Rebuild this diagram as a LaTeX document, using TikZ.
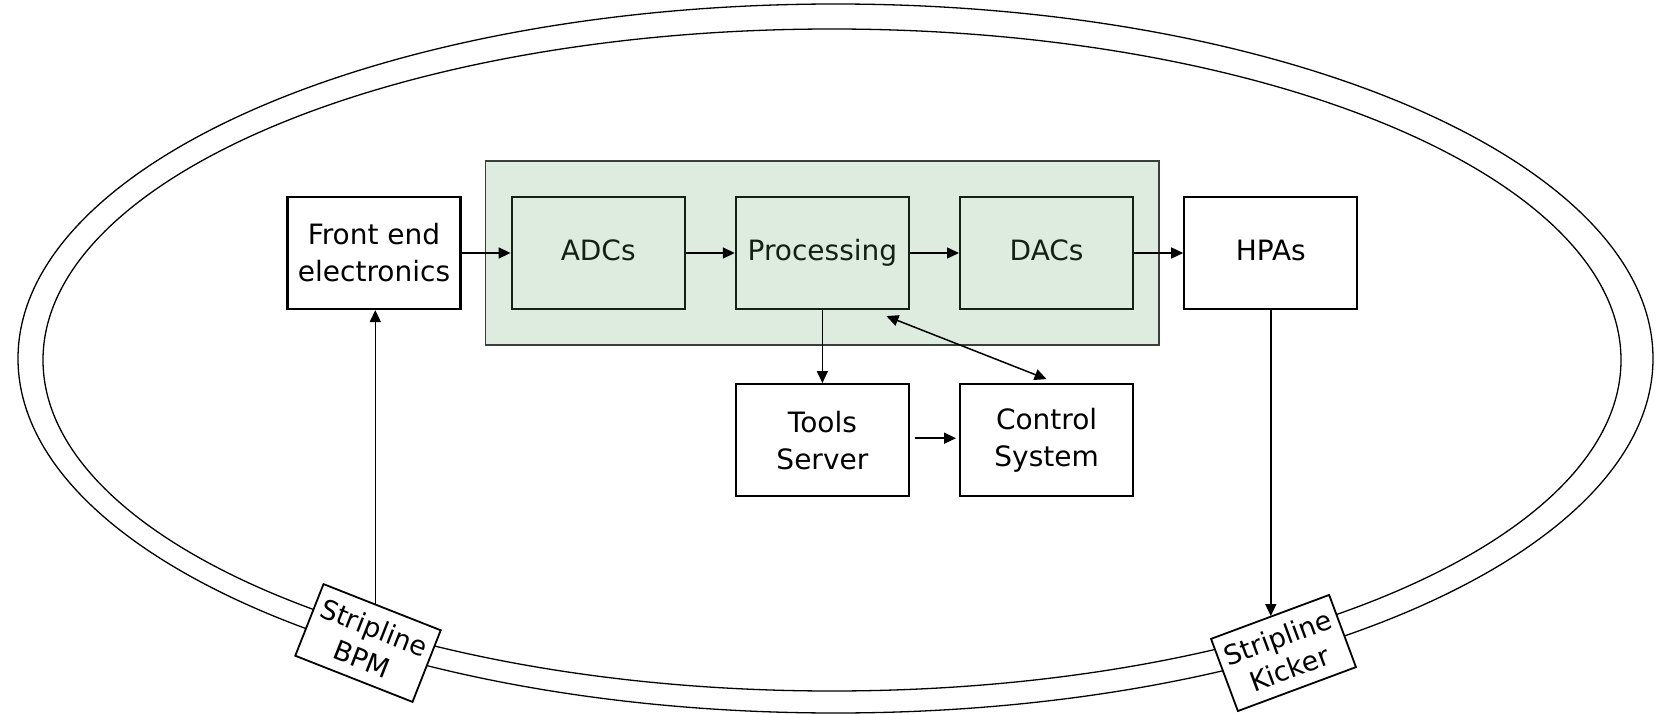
\documentclass[tikz,border=0pt]{standalone}
\usepackage{fontspec}
\setmainfont{DejaVu Sans}
\usetikzlibrary{arrows.meta, positioning, calc, fit, backgrounds}
\definecolor{panelfill}{HTML}{DEECDF}
\definecolor{paneldraw}{HTML}{3A3F3A}
\definecolor{blockdeep}{HTML}{142014}

\begin{document}
\begin{tikzpicture}[
    x=1pt, y=-1pt,
    >={Triangle[length=12pt, width=11pt]},
    font=\fontsize{28}{37}\selectfont,
    blkbox/.style={
        draw=black, line width=2.2pt, fill=white,
        minimum width=173pt, minimum height=112pt,
        align=center, inner sep=2pt
    },
    oneline/.style={text height=21pt, text depth=7pt},
    grnbox/.style={blkbox, oneline, draw=blockdeep, fill=panelfill, text=blockdeep},
    stripbox/.style={
        draw=black, line width=1.8pt, fill=white,
        minimum width=126pt, minimum height=77pt,
        font=\fontsize{27}{33}\selectfont,
        align=center, inner sep=0pt
    },
    panel/.style={draw=paneldraw, line width=1.5pt, fill=panelfill},
    ringline/.style={line width=1.3pt},
    arrstyle/.style={->, line width=1.5pt},
]
\useasboundingbox (0,0) rectangle (1668,714);

% ============ Ring ============
\draw[ringline] (835.5,358.5) ellipse [x radius=817.5pt, y radius=354.5pt];
\draw[ringline] (832,360) ellipse [x radius=789pt, y radius=331pt];

% ============ Feedback chain ============
\node[blkbox] (fe) at (374,253) {Front end\\electronics};
\node[grnbox, right=49pt of fe] (adc) {ADCs};
\node[grnbox, right=49pt of adc] (proc) {Processing};
\node[grnbox, right=49pt of proc] (dac) {DACs};
\node[blkbox, oneline, right=49pt of dac] (hpa) {HPAs};

% Board behind the digital part
\begin{scope}[on background layer]
\node[panel, fit=(adc)(proc)(dac), inner xsep=25pt, inner ysep=35pt] (board) {};
\end{scope}

% Servers
\node[blkbox, below=73pt of proc] (tools) {Tools\\Server};
\node[blkbox, right=49pt of tools] (ctrl) {Control\\System};

% Pickup and kicker on the ring
\node[stripbox, rotate=-21.5] (bpm) at (368,643) {Stripline\\BPM};
\node[stripbox, rotate=20.4] (kicker) at (1283.5,653) {Stripline\\Kicker};
\coordinate (bpmtop) at ($(bpm.north west)!0.44!(bpm.north east)$);

% Arrows
\draw[arrstyle] (fe.east) -- (adc.west);
\draw[arrstyle] (adc.east) -- (proc.west);
\draw[arrstyle] (proc.east) -- (dac.west);
\draw[arrstyle] (dac.east) -- (hpa.west);
\draw[arrstyle] (proc.south) -- (tools.north);
\draw[arrstyle, <->] ($(proc.south)+(64,6)$) -- ([yshift=4pt]ctrl.north);
\draw[arrstyle, shorten <=5pt, shorten >=3pt]
    ([yshift=2pt]tools.east) -- ([yshift=2pt]tools.east -| ctrl.west);
\draw[arrstyle] (bpmtop) -- (bpmtop |- fe.south);
\draw[arrstyle] (hpa.south) -- (hpa.south |- kicker.north);

\end{tikzpicture}
\end{document}
